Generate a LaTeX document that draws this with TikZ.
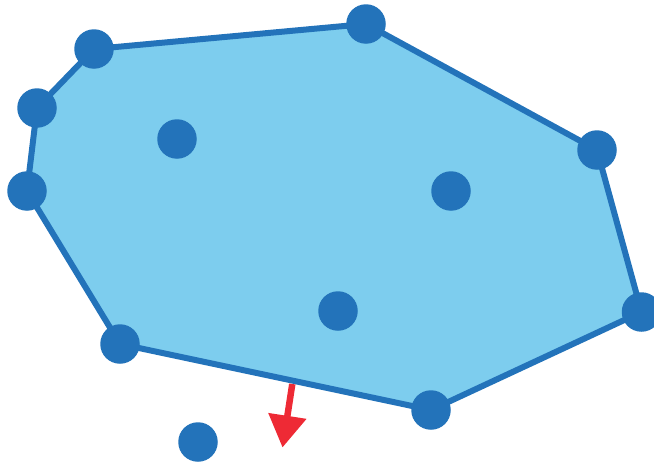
\documentclass[tikz,border=0pt]{standalone}
\usetikzlibrary{arrows.meta}
\definecolor{hullfill}{HTML}{7DCDEE}
\definecolor{ptblue}{HTML}{2373BA}
\definecolor{arrred}{HTML}{EE2A35}
\begin{document}
\begin{tikzpicture}[x=1pt,y=-1pt,
  pt/.style={circle,fill=ptblue,minimum size=39.5pt,inner sep=0pt},
  hull/.style={draw=ptblue,fill=hullfill,line width=6pt,line join=round},
  normal/.style={draw=arrred,line width=6.5pt,-{Triangle[length=32pt,width=37pt]}}]
\useasboundingbox (0,0) rectangle (654,463);
\coordinate (a) at (94,49);
\coordinate (b) at (366,24);
\coordinate (c) at (597,150);
\coordinate (d) at (641.5,312);
\coordinate (e) at (431,410);
\coordinate (f) at (120,344);
\coordinate (g) at (27,191);
\coordinate (h) at (37,108);
\draw[hull] (a) -- (b) -- (c) -- (d) -- (e) -- (f) -- (g) -- (h) -- cycle;
\foreach \p in {a,b,c,d,e,f,g,h} \node[pt] (n\p) at (\p) {};
\node[pt] (i1) at (177,139) {};
\node[pt] (i2) at (451,191) {};
\node[pt] (i3) at (338,311) {};
\node[pt] (o1) at (198,442) {};
\coordinate (s) at (292.3,384);
\coordinate (t) at (282.5,447.5);
\draw[normal] (s) -- (t);
\end{tikzpicture}
\end{document}
